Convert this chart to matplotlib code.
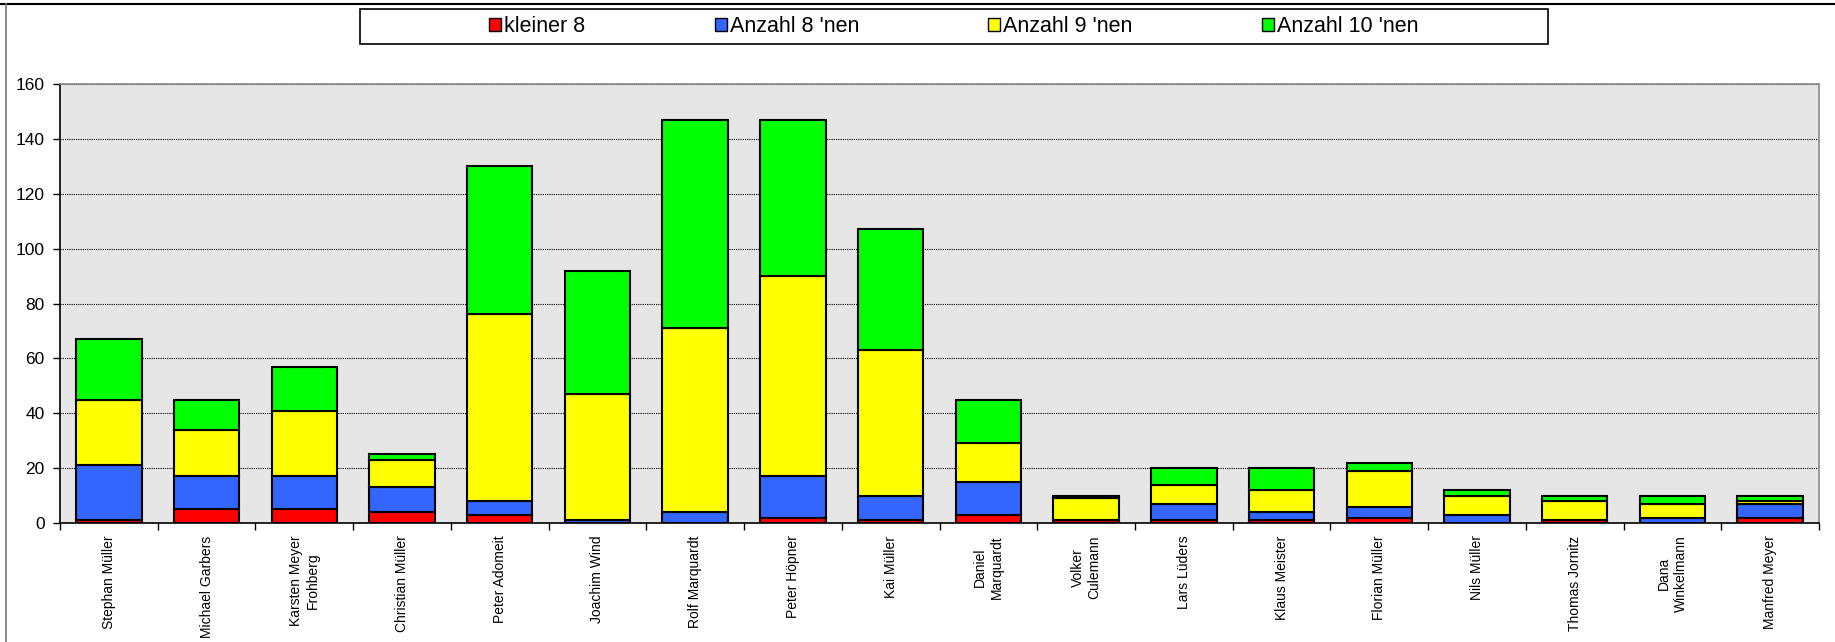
#!/usr/bin/env python3
"""Stacked bar chart of shooting results per person."""

import matplotlib

matplotlib.use("Agg")
import matplotlib.pyplot as plt
from matplotlib.lines import Line2D
from matplotlib.patches import Rectangle
import numpy as np

names = [
    "Stephan Müller", "Michael Garbers", "Karsten Meyer\nFrohberg", "Christian Müller",
    "Peter Adomeit", "Joachim Wind", "Rolf Marquardt", "Peter Höpner", "Kai Müller",
    "Daniel\nMarquardt", "Volker\nCulemann", "Lars Lüders", "Klaus Meister",
    "Florian Müller", "Nils Müller", "Thomas Jornitz", "Dana\nWinkelmann", "Manfred Meyer",
]
series_labels = ["kleiner 8", "Anzahl 8 'nen", "Anzahl 9 'nen", "Anzahl 10 'nen"]
kleiner_8 = [1, 5, 5, 4, 3, 0, 0, 2, 1, 3, 1, 1, 1, 2, 0, 1, 0, 2]
anzahl_8 = [20, 12, 12, 9, 5, 1, 4, 15, 9, 12, 0, 6, 3, 4, 3, 0, 2, 5]
anzahl_9 = [24, 17, 24, 10, 68, 46, 67, 73, 53, 14, 8, 7, 8, 13, 7, 7, 5, 1]
anzahl_10 = [22, 11, 16, 2, 54, 45, 76, 57, 44, 16, 1, 6, 8, 3, 2, 2, 3, 2]
colors = ["#ff0000", "#3366ff", "#ffff00", "#00ff00"]

plt.rcParams["font.family"] = ["Liberation Sans", "DejaVu Sans"]

W, H = 1835, 642
fig = plt.figure(figsize=(W / 100, H / 100), dpi=100)
ax = fig.add_axes([60 / W, 1 - 523 / H, (1819 - 60) / W, (523 - 84) / H])
ax.set_facecolor("#e6e6e6")

x = np.arange(len(names))
bottom = np.zeros(len(names))
for values, label, color in zip([kleiner_8, anzahl_8, anzahl_9, anzahl_10], series_labels, colors):
    ax.bar(x, values, 0.67, bottom=bottom, color=color, edgecolor="black",
           linewidth=1.5, label=label, zorder=3)
    bottom += np.array(values)

ax.set_xlim(-0.5, len(names) - 0.5)
ax.set_ylim(0, 160)
ax.set_yticks(np.arange(0, 161, 20))
ax.yaxis.grid(True, linestyle=(0, (1, 1)), color="black", linewidth=0.8, zorder=1)
ax.set_axisbelow(True)

ax.set_xticks(x)
ax.set_xticklabels(names, rotation=90, va="top", ha="center", multialignment="center", fontsize=10)
ax.set_xticks(np.arange(-0.5, len(names), 1.0), minor=True)
ax.tick_params(axis="x", which="major", length=0, pad=9)
ax.tick_params(axis="x", which="minor", length=5, width=1, color="black")
ax.tick_params(axis="y", length=5, width=1, labelsize=12.5, pad=6)

for side in ["left", "bottom"]:
    ax.spines[side].set_color("black")
    ax.spines[side].set_linewidth(1.2)
for side in ["top", "right"]:
    ax.spines[side].set_color("#8a8a8a")
    ax.spines[side].set_linewidth(1.2)

# legend box
fig.add_artist(Rectangle((360 / W, 1 - 44 / H), (1548 - 360) / W, 35 / H,
                         transform=fig.transFigure, facecolor="white",
                         edgecolor="black", linewidth=1.2))
handles = [Rectangle((0, 0), 1, 1, facecolor=c, edgecolor="black", linewidth=1.0) for c in colors]
fig.legend(handles, series_labels, loc="center", bbox_to_anchor=(954 / W, 1 - 26.5 / H),
           ncol=4, frameon=False, fontsize=15.5, handlelength=0.55, handleheight=0.55,
           handletextpad=0.15, columnspacing=6.0)

# outer chart frame
fig.add_artist(Line2D([0, 1], [1 - 4 / H, 1 - 4 / H], transform=fig.transFigure,
                      color="black", linewidth=1.5))
fig.add_artist(Line2D([6 / W, 6 / W], [0, 1 - 4 / H], transform=fig.transFigure,
                      color="#777777", linewidth=1.2))

fig.savefig("out.png", dpi=100)
